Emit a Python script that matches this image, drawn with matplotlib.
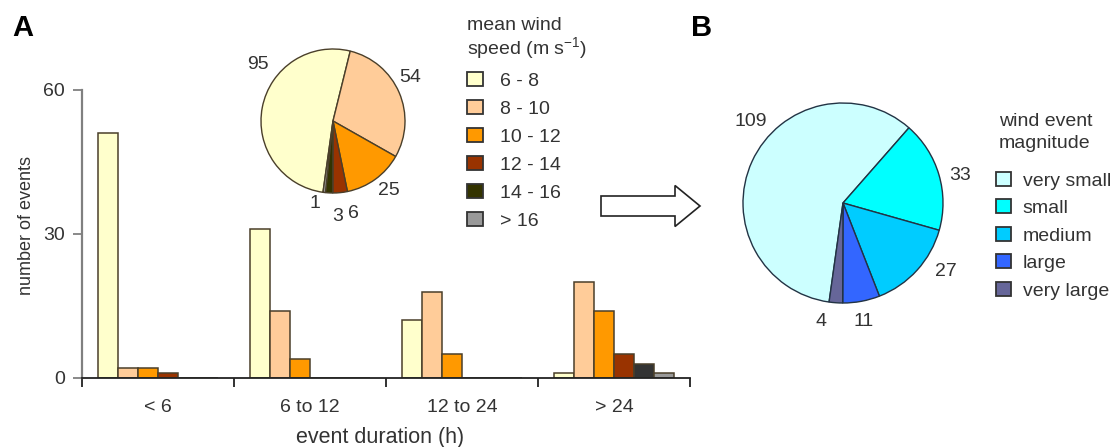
import numpy as np
import matplotlib.pyplot as plt
from matplotlib.patches import Patch, FancyArrow

plt.rcParams['font.family'] = ['Liberation Sans', 'DejaVu Sans']
plt.rcParams['mathtext.fontset'] = 'custom'
plt.rcParams['mathtext.rm'] = 'Liberation Sans'

# data
durations = ['< 6', '6 to 12', '12 to 24', '> 24']
speed_classes = ['6 - 8', '8 - 10', '10 - 12', '12 - 14', '14 - 16', '> 16']
counts_68 = [51, 31, 12, 1]
counts_810 = [2, 14, 18, 20]
counts_1012 = [2, 4, 5, 14]
counts_1214 = [1, 0, 0, 5]
counts_1416 = [0, 0, 0, 3]
counts_16 = [0, 0, 0, 1]
speed_totals = [95, 54, 25, 6, 3, 1]
magnitude_classes = ['very small', 'small', 'medium', 'large', 'very large']
magnitude_totals = [109, 33, 27, 11, 4]

speed_colors = ['#FFFFCC', '#FFCC99', '#FF9900', '#993300', '#333300', '#999999']
bar_colors = ['#FFFFCC', '#FFCC99', '#FF9900', '#993300', '#333333', '#999999']
mag_colors = ['#CCFFFF', '#00FFFF', '#00CCFF', '#3366FF', '#666699']

W, H = 1115, 447
fig = plt.figure(figsize=(W / 100, H / 100), dpi=100)


def px_axes(x0, y0, x1, y1):
    # pixel box (top-left origin) -> figure axes
    return fig.add_axes([x0 / W, 1 - y1 / H, (x1 - x0) / W, (y1 - y0) / H])


FS = 14
TXT = '#333333'

# panel A bars
ax = px_axes(82, 90, 690, 378)
series = [counts_68, counts_810, counts_1012, counts_1214, counts_1416, counts_16]
w = 20 / 152
x = np.arange(len(durations)) + 0.5
for j, vals in enumerate(series):
    ax.bar(x + (j - 2.5) * w, vals, width=w, color=bar_colors[j],
           edgecolor='#4a3f2a', linewidth=1.1)
ax.set_xlim(0, 4)
ax.set_ylim(0, 60)
ax.spines[['top', 'right']].set_visible(False)
ax.spines['left'].set_color('#808080')
ax.spines['left'].set_linewidth(1.6)
ax.spines['bottom'].set_color('#222222')
ax.spines['bottom'].set_linewidth(1.3)
ax.set_yticks([0, 30, 60])
ax.set_xticks([0, 1, 2, 3, 4])
ax.set_xticklabels([])
ax.set_xticks(x, minor=True)
ax.set_xticklabels(durations, minor=True, fontsize=FS, color=TXT)
ax.tick_params(axis='x', which='major', direction='out', length=6.5, width=1.3, color='#222222')
ax.tick_params(axis='x', which='minor', length=0, pad=15)
ax.tick_params(axis='y', direction='out', length=6.5, width=1.3, color='#808080',
               labelsize=FS, labelcolor=TXT, pad=6)
ax.set_ylabel('number of events', fontsize=13, color=TXT)
ax.yaxis.set_label_coords(-0.077, 0.53)
ax.set_xlabel('event duration (h)', fontsize=15.5, color=TXT)
ax.xaxis.set_label_coords(0.49, -0.17)

handles_a = [Patch(facecolor=c, edgecolor='#333333', linewidth=1.3) for c in speed_colors]
leg = ax.legend(handles_a, speed_classes, title='mean wind\nspeed (m s$^{-1}$)',
                loc='upper left', bbox_to_anchor=(467 / W, 1 - 17 / H),
                bbox_transform=fig.transFigure, frameon=False, borderpad=0,
                borderaxespad=0, fontsize=FS, title_fontsize=FS,
                handlelength=0.82, handleheight=0.72, handletextpad=0.87,
                labelspacing=0.53, alignment='left')
for t in leg.get_texts():
    t.set_color(TXT)
leg.get_title().set_color(TXT)
leg.get_title().set_linespacing(1.05)

# panel A pie
axp = px_axes(333 - 72, 121 - 72, 333 + 72, 121 + 72)
axp.pie(speed_totals, colors=speed_colors, startangle=262, counterclock=False,
        wedgeprops=dict(edgecolor='#4a3f2a', linewidth=1.0))
axp.set_xlim(-1, 1)
axp.set_ylim(-1, 1)
lab_a = [(-1.04, 0.78), (1.07, 0.60), (0.78, -0.96), (0.28, -1.28), (0.06, -1.33), (-0.25, -1.14)]
for v, (lx, ly) in zip(speed_totals, lab_a):
    axp.text(lx, ly, str(v), ha='center', va='center', fontsize=FS, color=TXT)

# arrow
fig.add_artist(FancyArrow(6.01, (H - 206) / 100, 0.99, 0, width=0.20, head_width=0.41,
                          head_length=0.25, length_includes_head=True,
                          transform=fig.dpi_scale_trans, facecolor='white',
                          edgecolor='#222222', linewidth=1.2))

# panel B pie
axb = px_axes(843 - 100, 203 - 100, 843 + 100, 203 + 100)
axb.pie(magnitude_totals, colors=mag_colors, startangle=262, counterclock=False,
        wedgeprops=dict(edgecolor='#223344', linewidth=1.0))
axb.set_xlim(-1, 1)
axb.set_ylim(-1, 1)
lab_b = [(-0.92, 0.82), (1.17, 0.27), (1.03, -0.69), (0.21, -1.19), (-0.22, -1.19)]
for v, (lx, ly) in zip(magnitude_totals, lab_b):
    axb.text(lx, ly, str(v), ha='center', va='center', fontsize=FS, color=TXT)

handles_b = [Patch(facecolor=c, edgecolor='#333333', linewidth=1.3) for c in mag_colors]
legb = axb.legend(handles_b, magnitude_classes,
                  loc='upper left', bbox_to_anchor=(996 / W, 1 - 172 / H),
                  bbox_transform=fig.transFigure, frameon=False, borderpad=0,
                  borderaxespad=0, fontsize=FS,
                  handlelength=0.78, handleheight=0.72, handletextpad=0.6,
                  labelspacing=0.5)
for t in legb.get_texts():
    t.set_color(TXT)
fig.text(999 / W, 1 - 113 / H, 'wind event\nmagnitude', ha='left', va='top',
         fontsize=FS, color=TXT, linespacing=1.35)

fig.text(22.5 / W, 1 - 27.5 / H, 'A', ha='center', va='center', fontsize=21, fontweight='bold')
fig.text(702 / W, 1 - 27.5 / H, 'B', ha='center', va='center', fontsize=21, fontweight='bold')

fig.savefig('out.png', dpi=100)
